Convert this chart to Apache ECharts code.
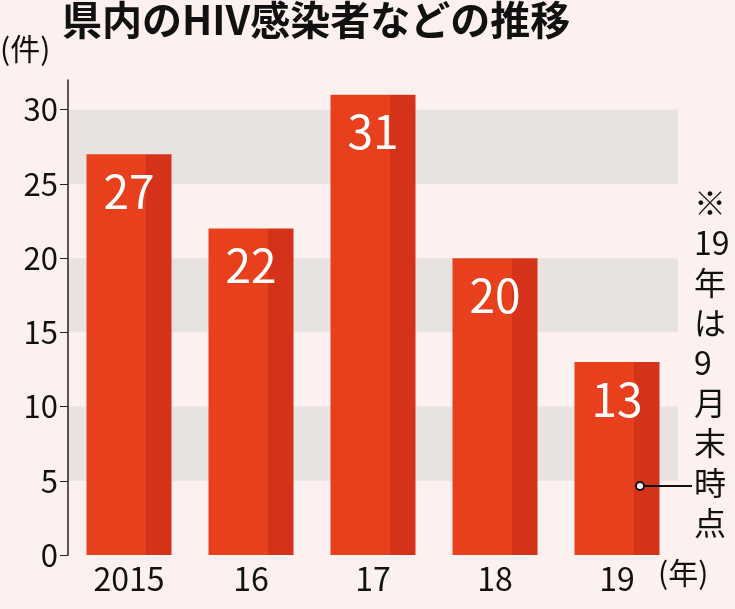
<!DOCTYPE html>
<html lang="ja">
<head>
  <meta charset="UTF-8">
  <title>県内のHIV感染者などの推移</title>
  <style>
    html,body { width:100%; height:100%; margin:0; background:#fdf1ef; }
  </style>
</head>
<body>
  <div id="chart" style="width:735px;height:609px"></div>
  <script src="https://cdn.jsdelivr.net/npm/echarts@6/dist/echarts.min.js"></script>
  <script>
    var years = ['2015', '16', '17', '18', '19'];
    var cases = [27, 22, 31, 20, 13];

    var myChart = echarts.init(document.getElementById('chart'));
    var font = '"Noto Sans CJK JP", sans-serif';
    var option = {
      backgroundColor: '#fdf1ef',
      animation: false,
      grid: { left: 68, width: 610, top: 80, bottom: 54 },
      xAxis: {
        type: 'category',
        data: years,
        axisLine: { show: false },
        axisTick: { show: false },
        axisLabel: { color: '#111', fontSize: 32, fontFamily: font, margin: 8 }
      },
      yAxis: {
        type: 'value',
        min: 0, max: 32, interval: 5,
        axisLine: { show: true, lineStyle: { color: '#222', width: 1.5 } },
        axisTick: { show: true, length: 8, lineStyle: { color: '#222' } },
        axisLabel: { color: '#111', fontSize: 31, fontFamily: font, margin: 10, showMaxLabel: false },
        splitLine: { show: false },
        splitArea: { show: true, areaStyle: { color: ['rgba(0,0,0,0)', '#e8e2e1'] } }
      },
      series: [{
        type: 'bar',
        data: cases,
        barWidth: 85,
        barCategoryGap: 0,
        itemStyle: {
          color: {
            type: 'linear', x: 0, y: 0, x2: 1, y2: 0,
            colorStops: [
              { offset: 0, color: '#e8401c' },
              { offset: 0.7, color: '#e8401c' },
              { offset: 0.7, color: '#d5321a' },
              { offset: 1, color: '#d5321a' }
            ]
          }
        },
        label: {
          show: true, position: 'insideTop', distance: 14,
          color: '#fff', fontSize: 46, fontFamily: font
        }
      }],
      graphic: [
        { type: 'text', left: 62, top: 0, z: 100, style: { text: '県内のHIV感染者などの推移', fontSize: 40, fontWeight: 'bold', fontFamily: font, fill: '#111' } },
        { type: 'text', left: 0, top: 34, z: 100, style: { text: '(件)', fontSize: 30, fontFamily: font, fill: '#111' } },
        { type: 'text', left: 658, top: 558, z: 100, style: { text: '(年)', fontSize: 30, fontFamily: font, fill: '#111' } },
        { type: 'text', left: 694, top: 183, z: 100, style: { text: '※\n19\n年\nは\n9\n月\n末\n時\n点', fontSize: 32, lineHeight: 40, align: 'center', fontFamily: font, fill: '#111' } },
        { type: 'line', z: 100, shape: { x1: 640, y1: 486, x2: 692, y2: 486 }, style: { stroke: '#111', lineWidth: 2 } },
        { type: 'circle', z: 101, shape: { cx: 640, cy: 486, r: 4 }, style: { fill: '#fff', stroke: '#111', lineWidth: 2 } }
      ]
    };
    myChart.setOption(option);
  </script>
</body>
</html>
